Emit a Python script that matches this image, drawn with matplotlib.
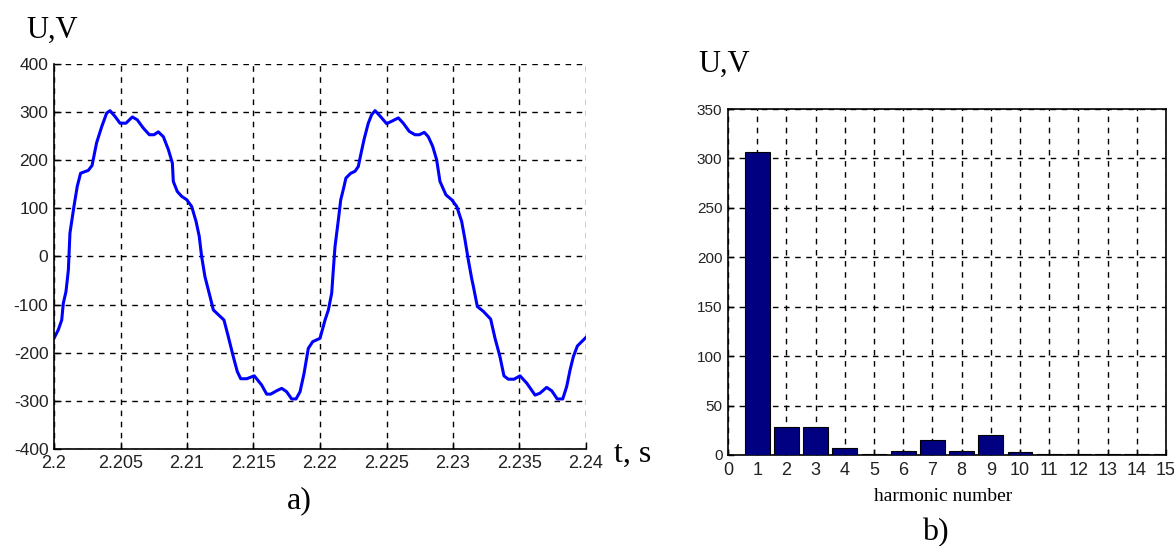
import matplotlib
matplotlib.use("Agg")
import matplotlib.pyplot as plt

plt.rcParams["axes.unicode_minus"] = False

# Time samples of the measured phase voltage (two periods, 50 Hz)
time_s = [
    2.2000, 2.20033, 2.20058, 2.2007, 2.2009, 2.20108, 2.2012, 2.2015, 2.20175, 2.2020,
    2.20258, 2.20286, 2.2032, 2.20359, 2.20396, 2.20421, 2.20459, 2.20496, 2.20541, 2.20589,
    2.20626, 2.20671, 2.20717, 2.20752, 2.20784, 2.20822, 2.2086, 2.2089, 2.20897, 2.20927,
    2.2096, 2.20998, 2.21035, 2.21068, 2.21092, 2.2111, 2.21135, 2.21173, 2.21198, 2.21236,
    2.21278, 2.2131, 2.21348, 2.21378, 2.21404, 2.21449, 2.21506, 2.21561, 2.21599, 2.21629,
    2.21674, 2.21712, 2.21749, 2.21787, 2.2182, 2.2185, 2.2188, 2.21912, 2.21945, 2.2200,
    2.22038, 2.22063, 2.22088, 2.2210, 2.22113, 2.22138, 2.22156, 2.22175, 2.22195, 2.22231,
    2.22263, 2.22288, 2.22306, 2.22331, 2.22363, 2.22389, 2.22414, 2.22451, 2.22501, 2.22539,
    2.22589, 2.22626, 2.22671, 2.22714, 2.22747, 2.22784, 2.22814, 2.22847, 2.22877, 2.22902,
    2.22947, 2.2299, 2.23028, 2.23065, 2.2309, 2.23115, 2.2314, 2.23153, 2.23183, 2.23228,
    2.23283, 2.23316, 2.23353, 2.23383, 2.23416, 2.23459, 2.23504, 2.23554, 2.23617, 2.23654,
    2.23704, 2.23742, 2.23784, 2.23825, 2.23855, 2.2388, 2.23905, 2.23935, 2.2400,
]
voltage_v = [
    -170, -152, -132, -97, -73, -28, 49, 104, 146, 173,
    179, 189, 236, 270, 298, 303, 291, 277, 277, 290,
    284, 267, 253, 253, 259, 249, 222, 194, 156, 135,
    125, 118, 104, 73, 42, 0, -42, -83, -111, -121,
    -132, -166, -208, -239, -254, -254, -248, -267, -286, -286,
    -279, -274, -281, -296, -296, -281, -243, -191, -177, -170,
    -132, -111, -76, -28, 21, 76, 118, 139, 163, 173,
    177, 187, 211, 243, 277, 295, 303, 292, 276, 281,
    288, 277, 260, 253, 253, 258, 249, 229, 201, 156,
    128, 118, 104, 73, 35, -7, -45, -62, -104, -114,
    -130, -170, -208, -248, -255, -255, -248, -263, -288, -284,
    -272, -279, -296, -296, -270, -236, -208, -186, -168,
]

# Harmonic spectrum amplitudes
harmonic_number = list(range(1, 16))
harmonic_amplitude = [307, 28, 28, 7, 1.5, 4, 15, 4, 20, 3, 1.5, 1.5, 1.5, 1.5, 1.5]

time_ticks = [2.2, 2.205, 2.21, 2.215, 2.22, 2.225, 2.23, 2.235, 2.24]
time_tick_labels = ["2.2", "2.205", "2.21", "2.215", "2.22", "2.225", "2.23", "2.235", "2.24"]
volt_ticks = [-400, -300, -200, -100, 0, 100, 200, 300, 400]
spec_yticks = [0, 50, 100, 150, 200, 250, 300, 350]
spec_xticks = list(range(0, 16))

W, H = 1174, 546
fig = plt.figure(figsize=(W / 100, H / 100), dpi=100)
fig.patch.set_facecolor("white")

tick_font = "Liberation Sans"
label_font = "Liberation Serif"
grid_style = dict(color="black", linestyle=(0, (4, 4)), linewidth=1.0)

# ---- a) waveform ----
ax1 = fig.add_axes([54 / W, 1 - 449 / H, (586 - 54) / W, (449 - 64) / H])
ax1.plot(time_s, voltage_v, color="#0000ff", linewidth=2.2)
ax1.set_xlim(2.2, 2.24)
ax1.set_ylim(-400, 400)
ax1.set_xticks(time_ticks)
ax1.set_xticklabels(time_tick_labels)
ax1.set_yticks(volt_ticks)
ax1.grid(True, **grid_style)
for side in ("top", "right"):
    ax1.spines[side].set_visible(False)
for side in ("left", "bottom"):
    ax1.spines[side].set_linewidth(1.2)
ax1.tick_params(direction="in", length=5, width=1, pad=4)
for lab in ax1.get_xticklabels():
    lab.set_fontfamily(tick_font)
    lab.set_fontsize(13)
    lab.set_color("#222222")
for lab in ax1.get_yticklabels():
    lab.set_fontfamily(tick_font)
    lab.set_fontsize(12.5)
    lab.set_color("#222222")

# ---- b) harmonic spectrum ----
ax2 = fig.add_axes([728 / W, 1 - 455 / H, (1166 - 728) / W, (455 - 109) / H])
ax2.bar(harmonic_number, harmonic_amplitude, width=0.85, color="#000080",
        edgecolor="black", linewidth=0.8, zorder=3)
ax2.set_xlim(0, 15)
ax2.set_ylim(0, 350)
ax2.set_xticks(spec_xticks)
ax2.set_yticks(spec_yticks)
ax2.grid(True, **grid_style, zorder=0)
ax2.set_axisbelow(True)
for side in ax2.spines:
    ax2.spines[side].set_linewidth(1.2)
ax2.tick_params(direction="in", length=4, width=1, pad=5)
for lab in ax2.get_xticklabels():
    lab.set_fontfamily(tick_font)
    lab.set_fontsize(13)
    lab.set_color("#222222")
for lab in ax2.get_yticklabels():
    lab.set_fontfamily(tick_font)
    lab.set_fontsize(11)
    lab.set_color("#222222")
ax2.tick_params(axis="y", pad=4)

# ---- annotations ----
fig.text(26 / W, 1 - 38 / H, "U,V", family=label_font, fontsize=22, va="baseline")
fig.text(614 / W, 1 - 462 / H, "t, s", family=label_font, fontsize=23, va="baseline")
fig.text(287 / W, 1 - 508 / H, "a)", family=label_font, fontsize=23, va="baseline")
fig.text(698 / W, 1 - 72 / H, "U,V", family=label_font, fontsize=22, va="baseline")
fig.text(943 / W, 1 - 501 / H, "harmonic number", family=label_font, fontsize=14,
         va="baseline", ha="center")
fig.text(922 / W, 1 - 540 / H, "b)", family=label_font, fontsize=23, va="baseline")

fig.savefig("out.png", dpi=100)
